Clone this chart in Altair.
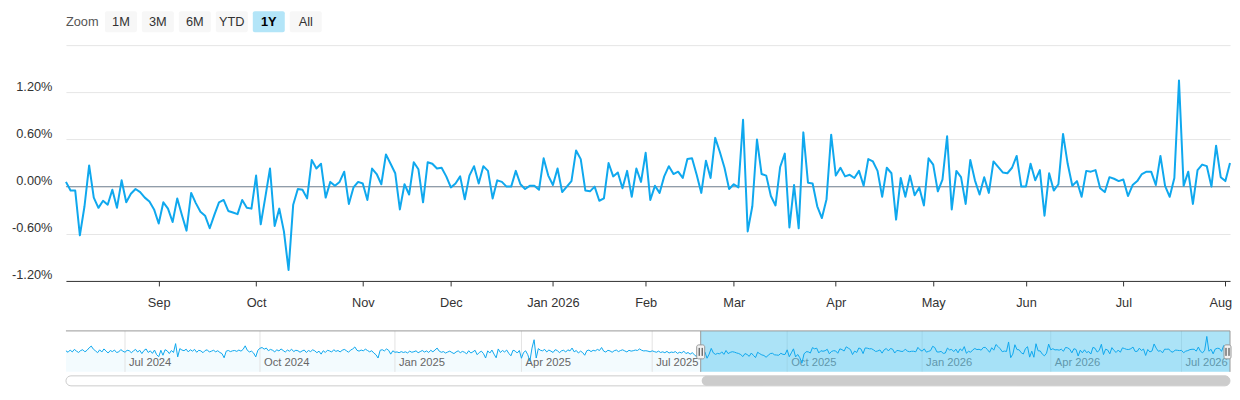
import altair as alt
import pandas as pd

# ---------------- data ----------------
holidays = ["2024-05-27", "2024-06-19", "2024-07-04", "2024-09-02", "2024-11-28", "2024-12-25",
            "2025-01-01", "2025-01-09", "2025-01-20", "2025-02-17", "2025-04-18", "2025-05-26",
            "2025-06-19", "2025-07-04", "2025-09-01", "2025-11-27", "2025-12-25",
            "2026-01-01", "2026-01-19", "2026-02-16", "2026-04-03", "2026-05-25", "2026-06-19",
            "2026-07-03"]
first_day = "2024-05-20"
last_day = "2026-08-04"

# daily change (%) before the selected 1Y window (navigator only)
pre_values = [
    0.05, -0.08, 0.12, -0.05, 0.18, 0.02, -0.10, 0.08, 0.15, -0.04,
    0.10, 0.32, 0.48, 0.20, 0.05, -0.12, 0.14, -0.06, 0.22, 0.04,
    -0.15, 0.08, -0.02, 0.12, -0.10, -0.05, 0.16, 0.02, -0.08, 0.10,
    0.06, -0.12, 0.04, 0.18, -0.06, 0.10, -0.20, 0.08, 0.22, -0.10,
    0.05, -0.18, 0.12, -0.30, -0.48, 0.10, -0.35, 0.15, 0.05, -0.20,
    0.08, -0.10, 0.70, -0.50, 0.25, 0.12, 0.06, 0.20, -0.05, 0.15,
    0.02, 0.18, -0.08, 0.10, 0.04, -0.12, 0.08, 0.14, -0.06, 0.02,
    0.10, -0.04, 0.06, -0.10, -0.20, -0.58, 0.02, 0.08, -0.02, 0.05,
    0.08, 0.00, 0.12, 0.02, 0.18, 0.50, 0.10, -0.05, 0.02, -0.15,
    -0.50, 0.10, 0.28, 0.35, 0.20, 0.30, 0.06, 0.18, 0.10, -0.04,
    0.14, 0.04, 0.22, 0.08, -0.06, 0.12, 0.02, 0.20, -0.02, 0.10,
    0.06, -0.08, 0.04, 0.12, -0.10, 0.08, -0.02, 0.14, 0.05, -0.12,
    0.02, -0.25, 0.06, -0.10, 0.10, 0.04, -0.06, 0.15, 0.00, 0.08,
    -0.05, 0.10, 0.18, 0.06, -0.08, 0.12, 0.22, 0.40, 0.10, 0.02,
    0.12, 0.05, 0.20, 0.08, -0.04, 0.06, -0.15, -0.30, -0.60, 0.10,
    0.15, 0.04, 0.22, 0.10, -0.25, 0.05, -0.08, -0.05, -0.12, -0.02,
    -0.10, -0.04, -0.14, 0.02, -0.08, -0.03, 0.05, -0.12, -0.02, 0.08,
    -0.06, 0.04, -0.10, 0.10, -0.04, 0.12, 0.30, 0.02, -0.08, -0.02,
    -0.15, -0.06, 0.02, -0.10, -0.20, -0.05, 0.05, -0.12, 0.00, -0.08,
    -0.22, 0.06, -0.15, -0.04, 0.10, -0.30, -0.10, 0.02, -0.20, -0.60,
    0.05, -0.15, 0.12, -0.25, -0.58, 0.22, -0.10, 0.08, -0.05, 0.12,
    -0.18, -0.40, 0.10, 0.04, -0.15, 0.08, -0.62, -0.10, 0.05, -0.30,
    -0.88, 0.30, 1.05, -0.60, 0.25, 0.10, 0.05, 0.18, -0.05, 0.12,
    0.02, -0.10, 0.15, 0.08, -0.12, 0.05, 0.10, -0.06, 0.14, 0.04,
    0.30, -0.04, 0.08, -0.15, 0.02, -0.10, -0.35, 0.06, 0.12, -0.02,
    0.10, 0.04, 0.18, 0.08, 0.35, 0.02, -0.06, 0.10, 0.04, -0.08,
    0.06, 0.12, -0.02, 0.08, 0.14, 0.04, -0.05, 0.10, 0.02, 0.06,
    0.12, 0.08, 0.22, 0.10, 0.04, 0.06, 0.02, -0.04, 0.05, -0.02,
    -0.08, 0.02, -0.10, -0.04, -0.12, 0.00, -0.15, -0.06, -0.10, -0.02,
    -0.18, -0.08, -0.14, 0.02, -0.20, -0.10, -0.25, -0.12, -0.30, -0.48,
    -0.10,
]

# daily change (%) in the selected 1Y window (Aug 2025 - Aug 2026)
main_values = [
    0.06, -0.05, -0.05, -0.62, -0.25, 0.27, -0.14, -0.27, -0.18, -0.23,
    -0.04, -0.27, 0.08, -0.20, -0.09, -0.03, -0.07, -0.14, -0.19, -0.29,
    -0.47, -0.20, -0.28, -0.45, -0.15, -0.36, -0.56, -0.08, -0.21, -0.32,
    -0.37, -0.53, -0.36, -0.20, -0.17, -0.31, -0.33, -0.35, -0.17, -0.27,
    -0.28, 0.14, -0.48, -0.13, 0.23, -0.50, -0.28, -0.57, -1.06, -0.23,
    -0.03, -0.04, -0.15, 0.34, 0.23, 0.29, -0.14, 0.06, 0.01, 0.06,
    0.19, -0.22, -0.01, 0.06, 0.04, -0.17, 0.23, 0.16, 0.03, 0.41,
    0.29, 0.17, -0.29, 0.03, -0.10, 0.31, 0.22, -0.20, 0.31, 0.29,
    0.23, 0.24, 0.13, -0.01, 0.04, 0.13, -0.16, 0.14, 0.26, 0.04,
    0.26, 0.20, -0.15, 0.08, 0.06, 0.00, 0.00, 0.20, 0.03, -0.03,
    0.01, 0.01, -0.04, 0.36, 0.14, 0.02, 0.23, -0.07, 0.00, 0.07,
    0.46, 0.35, -0.05, -0.06, 0.00, -0.18, -0.15, 0.30, 0.13, 0.18,
    -0.02, 0.20, -0.13, 0.23, 0.06, 0.43, -0.17, 0.01, -0.08, 0.13,
    0.26, 0.16, 0.19, 0.11, 0.35, 0.36, 0.15, -0.08, 0.33, 0.11,
    0.62, 0.44, 0.24, -0.03, 0.03, -0.01, 0.85, -0.57, -0.25, 0.60,
    0.16, 0.14, -0.12, -0.24, 0.25, 0.42, -0.52, 0.02, -0.53, 0.69,
    0.05, 0.04, -0.25, -0.40, -0.16, 0.66, 0.14, 0.24, 0.13, 0.15,
    0.11, 0.20, 0.01, 0.35, 0.32, 0.20, -0.13, 0.24, 0.17, -0.42,
    0.11, -0.13, 0.14, -0.11, -0.01, -0.24, 0.36, 0.28, -0.06, 0.09,
    0.64, -0.29, 0.20, 0.12, -0.22, 0.34, 0.08, -0.10, 0.12, -0.08,
    0.32, 0.25, 0.18, 0.17, 0.24, 0.39, 0.00, 0.00, 0.29, 0.08,
    0.21, -0.37, 0.17, -0.05, 0.03, 0.67, 0.29, 0.01, 0.07, -0.13,
    0.20, 0.19, 0.21, -0.02, -0.07, 0.12, 0.10, 0.07, 0.09, -0.12,
    0.02, 0.07, 0.16, 0.19, 0.19, 0.02, 0.39, 0.01, -0.13, 0.11,
    1.35, 0.01, 0.19, -0.22, 0.21, 0.28, 0.26, 0.00, 0.52, 0.12,
    0.07, 0.30,
]

button_labels = ["1M", "3M", "6M", "YTD", "1Y", "All"]
selected_button = "1Y"
zoom_label = "Zoom"
y_ticks = [-1.2, -0.6, 0.0, 0.6, 1.2, 1.8]
y_domain = [-1.2, 1.8]
nav_domain = [-1.85, 1.85]

# ---------------- styling ----------------
LINE = "#0fa8ee"
FONT = "Liberation Sans"
W, H = 1165, 236
BH = 21          # button row height
NH = 92          # navigator panel height (incl. scrollbar)

# ---------------- frames ----------------
values = pre_values + main_values
n = len(values)
days = pd.bdate_range(first_day, last_day, freq="C", holidays=holidays)
if len(days) < n:
    days = pd.bdate_range(end=last_day, periods=n, freq="C", holidays=holidays)
days = pd.to_datetime(list(days[-n:]))
nav = pd.DataFrame({"j": list(range(n)), "v": values})
start = len(pre_values)
nav_months = pd.Series(days).dt.to_period("M")

main = nav.iloc[start:].reset_index(drop=True).copy()
main["i"] = list(range(len(main)))
main_months = nav_months.iloc[start:].reset_index(drop=True)

firsts = main["i"].groupby(main_months).min()
tick_idx, tick_lab = [], []
for per, idx in firsts.items():
    if idx == 0:
        continue
    tick_idx.append(int(idx))
    tick_lab.append(per.strftime("%b %Y") if per.month == 1 else per.strftime("%b"))
xexpr = "''"
for t, l in reversed(list(zip(tick_idx, tick_lab))):
    xexpr = f"datum.value == {t} ? '{l}' : ({xexpr})"
last_tick = tick_idx[-1]

nfirst = nav["j"].groupby(nav_months).min()
qrows = [(int(idx), per.strftime("%b %Y")) for per, idx in nfirst.items()
         if per.month in (1, 4, 7, 10) and idx > 0]
qdf = pd.DataFrame(qrows, columns=["j", "label"])

yexpr = ("datum.value >= 1.79 ? '' : (datum.value < -0.001 ? '-' : '') + "
         "format(abs(datum.value), '.2f') + '%'")

# ---------------- main panel ----------------
x_main = alt.X("i:Q", scale=alt.Scale(domain=[0, len(main) - 1], nice=False, zero=False),
               axis=alt.Axis(values=tick_idx, labelExpr=xexpr, title=None, grid=False,
                             domainColor="#333333", domainWidth=1, tickColor="#333333",
                             tickSize=5, tickWidth=1, labelPadding=11, labelFont=FONT,
                             labelFontSize=12.8, labelColor="#333333", labelFlush=False,
                             labelOverlap=False, labelAngle=0, labelBaseline="top",
                             labelOffset=alt.condition(f"datum.value == {last_tick}",
                                                       alt.value(-5), alt.value(0))))
y_main = alt.Y("v:Q", scale=alt.Scale(domain=y_domain, nice=False, zero=False),
               axis=alt.Axis(values=y_ticks, labelExpr=yexpr, title=None, grid=True,
                             gridColor="#e6e6e6", domain=False, ticks=False, labelPadding=14,
                             labelFont=FONT, labelFontSize=12.8, labelColor="#333333",
                             labelBaseline="alphabetic", labelOffset=-2, labelOverlap=False,
                             labelFlush=False))

zero_rule = alt.Chart(pd.DataFrame({"v": [0.0]})).mark_rule(
    color="#8391a0", strokeWidth=1).encode(y=y_main)
main_line = alt.Chart(main).mark_line(color=LINE, strokeWidth=2, strokeJoin="round").encode(
    x=x_main, y=y_main)
main_panel = alt.layer(zero_rule, main_line).properties(width=W, height=H)

# ---------------- navigator ----------------
x_nav = alt.X("j:Q", scale=alt.Scale(domain=[0, n - 1], nice=False, zero=False), axis=None)
y_nav = alt.Y("v:Q", scale=alt.Scale(domain=nav_domain, range=[78, 37], nice=False, zero=False),
              axis=None)
lo, hi = nav_domain

sel = pd.DataFrame({"j": [start], "j2": [n - 1], "v": [lo], "v2": [hi]})
full = pd.DataFrame({"j": [0], "j2": [n - 1], "v": [lo], "v2": [hi]})
edges = pd.DataFrame({"j": [start, n - 1], "v": [lo, lo], "v2": [hi, hi]})
left_edge = edges.iloc[[0]]
right_edge = edges.iloc[[1]]
qdf["v"] = lo
qdf["v2"] = hi

nav_area = alt.Chart(nav).transform_calculate(base=str(lo)).mark_area(
    color=LINE, opacity=0.05).encode(x=x_nav, y=y_nav, y2="base:Q")
nav_grid = alt.Chart(qdf).mark_rule(color="#e3e3e3", strokeWidth=1).encode(
    x=x_nav, y=y_nav, y2="v2:Q")
nav_text = alt.Chart(qdf).mark_text(align="left", baseline="middle", dx=4, font=FONT,
                                    fontSize=11.2, color="#666666").encode(
    x=x_nav, y=alt.value(69), text="label:N")
nav_mask = alt.Chart(sel).mark_rect(color="#5ac8f0", opacity=0.5).encode(
    x=x_nav, x2="j2:Q", y=y_nav, y2="v2:Q")
nav_line = alt.Chart(nav).mark_line(color=LINE, strokeWidth=1).encode(x=x_nav, y=y_nav)
nav_top = alt.Chart(full).mark_rule(color="#999999", strokeWidth=1).encode(
    x=x_nav, x2="j2:Q", y=alt.Y("v2:Q", scale=alt.Scale(domain=nav_domain, range=[78, 37],
                                                       nice=False, zero=False), axis=None))
nav_edges = alt.Chart(edges).mark_rule(color="#999999", strokeWidth=1).encode(
    x=x_nav, y=y_nav, y2="v2:Q")


def handle(df, off_l, off_r):
    body = alt.Chart(df).mark_rect(fill="#f2f2f2", stroke="#999999", strokeWidth=1,
                                   cornerRadius=2, xOffset=off_l, x2Offset=off_r).encode(
        x=x_nav, x2="j:Q", y=alt.value(51), y2=alt.value(65))
    mid = (off_l + off_r) / 2
    g1 = alt.Chart(df).mark_rule(color="#333333", strokeWidth=1, xOffset=mid - 1.5).encode(
        x=x_nav, y=alt.value(54), y2=alt.value(62))
    g2 = alt.Chart(df).mark_rule(color="#333333", strokeWidth=1, xOffset=mid + 1.5).encode(
        x=x_nav, y=alt.value(54), y2=alt.value(62))
    return [body, g1, g2]


track = alt.Chart(full).mark_rect(fill="#ffffff", stroke="#cccccc", strokeWidth=1,
                                  cornerRadius=5).encode(
    x=x_nav, x2="j2:Q", y=alt.value(82), y2=alt.value(92))
thumb = alt.Chart(sel).mark_rect(fill="#cccccc", cornerRadius=5, xOffset=1).encode(
    x=x_nav, x2="j2:Q", y=alt.value(82), y2=alt.value(92))

nav_panel = alt.layer(nav_area, nav_grid, nav_text, nav_mask, nav_line, nav_top, nav_edges,
                      *handle(left_edge, -4, 4), *handle(right_edge, -6, 1),
                      track, thumb).properties(width=W, height=NH)

# ---------------- range selector buttons ----------------
bdf = pd.DataFrame({"label": button_labels})
bx = alt.X("label:N", scale=alt.Scale(domain=button_labels, range=[39, 39 + 37 * 6 - 5],
                                      paddingInner=5 / 37, paddingOuter=0), axis=None)
brect = alt.Chart(bdf).mark_rect(cornerRadius=2).encode(
    x=bx, y=alt.value(0), y2=alt.value(BH),
    color=alt.condition(alt.datum.label == selected_button, alt.value("#b3e5f8"),
                        alt.value("#f7f7f7")))
btext = alt.Chart(bdf).transform_filter(alt.datum.label != selected_button).mark_text(
    font=FONT, fontSize=12.8, color="#333333", baseline="middle").encode(
    x=bx, y=alt.value(BH / 2), text="label:N")
btext_sel = alt.Chart(bdf).transform_filter(alt.datum.label == selected_button).mark_text(
    font=FONT, fontSize=12.8, color="#000000", fontWeight="bold", baseline="middle").encode(
    x=bx, y=alt.value(BH / 2), text="label:N")
ztext = alt.Chart(pd.DataFrame({"label": [zoom_label]})).mark_text(
    font=FONT, fontSize=12.8, color="#555555", align="left", baseline="middle").encode(
    x=alt.value(0), y=alt.value(BH / 2), text="label:N")
button_panel = alt.layer(brect, btext, btext_sel, ztext).properties(width=W, height=BH)

chart = alt.vconcat(button_panel, main_panel, nav_panel, spacing=13, bounds="flush").properties(
    padding={"left": 3, "top": 3, "right": 0, "bottom": 2},
    background="#ffffff"
).configure_view(stroke=None)

chart.save("out.html", embed_options={"renderer": "svg", "actions": False})
